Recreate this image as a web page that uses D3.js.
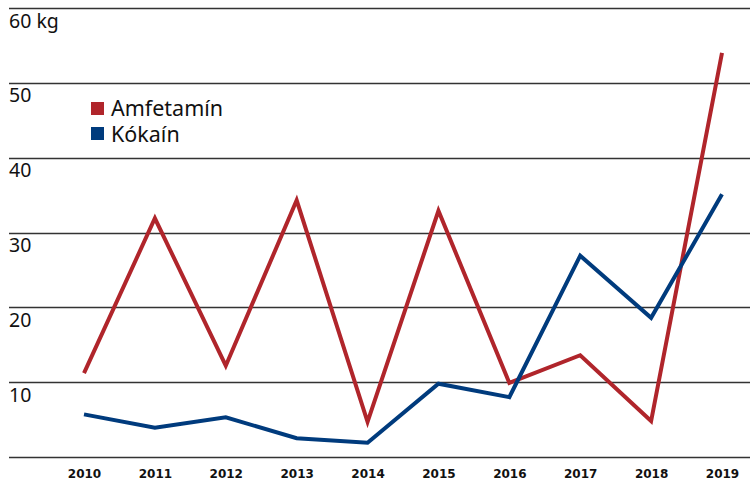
<!DOCTYPE html>
<html><head><meta charset="utf-8">
<script src="https://cdn.jsdelivr.net/npm/d3@7"></script>
<style>html,body{margin:0;padding:0;background:#fff}svg{display:block}</style>
</head><body>
<svg id="c" width="750" height="484"></svg>
<script>
const years = [2010,2011,2012,2013,2014,2015,2016,2017,2018,2019];
const amfetamin = [11.2,31.9,12.2,34.3,4.7,32.9,9.9,13.6,4.8,54.0];
const kokain = [5.7,3.9,5.3,2.5,1.9,9.8,8.0,26.9,18.6,35.1];
const yTicks = [0,10,20,30,40,50,60];
const yTickLabels = ["","10","20","30","40","50","60 kg"];
const seriesNames = ["Amfetamín","Kókaín"];
const colors = ["#b0252b","#003b7d"];

const svg = d3.select("#c");
const x = d3.scalePoint().domain(years).range([84,722]);
const y = d3.scaleLinear().domain([0,60]).range([457,8]);
const font = "'Noto Sans', 'Open Sans', sans-serif";

// gridlines
svg.append("g").selectAll("line").data(yTicks).join("line")
  .attr("x1",9).attr("x2",750)
  .attr("y1",d=>Math.round(y(d))+0.5).attr("y2",d=>Math.round(y(d))+0.5)
  .attr("stroke","#333").attr("stroke-width",1.3);

// y labels
svg.append("g").selectAll("text").data(yTicks).join("text")
  .attr("x",9).attr("y",d=>y(d)+19.5)
  .attr("font-family",font).attr("font-size",19.5).attr("fill","#111")
  .text((d,i)=>yTickLabels[i]);

// x axis labels
const xAxis = d3.axisBottom(x).tickSize(0).tickPadding(0);
const gx = svg.append("g").attr("transform","translate(0,469)").call(xAxis);
gx.select(".domain").remove();
gx.selectAll("text").attr("font-family","'DejaVu Sans', Verdana, sans-serif")
  .attr("font-weight","bold").attr("font-size",12).attr("fill","#111");

// lines
const line = d3.line().x((d,i)=>x(years[i])).y(d=>y(d));
[amfetamin,kokain].forEach((s,k)=>{
  svg.append("path").datum(s).attr("d",line).attr("fill","none")
    .attr("stroke",colors[k]).attr("stroke-width",4).attr("stroke-linejoin","miter");
});

// legend
const lg = svg.append("g");
seriesNames.forEach((n,k)=>{
  lg.append("rect").attr("x",91).attr("y",102+k*25).attr("width",13).attr("height",13).attr("fill",colors[k]);
  lg.append("text").attr("x",111).attr("y",115.5+k*26.5).attr("font-family",font)
    .attr("font-size",21.5).attr("fill","#111").text(n);
});
</script>
</body></html>
